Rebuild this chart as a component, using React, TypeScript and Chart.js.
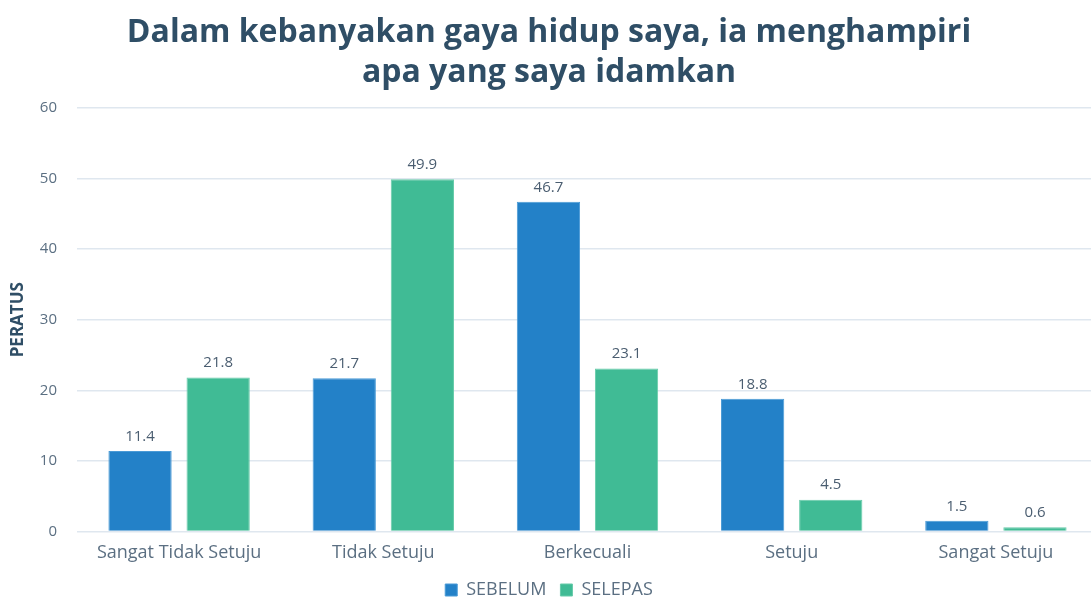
import React, { useEffect, useRef } from "react";
import { Chart, registerables } from "chart.js";

Chart.register(...registerables);

const categories = ["Sangat Tidak Setuju", "Tidak Setuju", "Berkecuali", "Setuju", "Sangat Setuju"];
const sebelum = [11.4, 21.7, 46.7, 18.8, 1.5];
const selepas = [21.8, 49.9, 23.1, 4.5, 0.6];
const seriesNames = ["SEBELUM", "SELEPAS"];
const titleLines = ["Dalam kebanyakan gaya hidup saya, ia menghampiri", "apa yang saya idamkan"];
const yTitle = "PERATUS";

const FONT = "'Open Sans', 'Noto Sans', sans-serif";
const TEXT = "#5b6f82";

const valueLabels = {
  id: "valueLabels",
  afterDatasetsDraw(chart: any) {
    const ctx = chart.ctx;
    ctx.save();
    ctx.font = `15px ${FONT}`;
    ctx.fillStyle = "#4a5d70";
    ctx.textAlign = "center";
    ctx.textBaseline = "bottom";
    chart.data.datasets.forEach((ds: any, i: number) => {
      const meta = chart.getDatasetMeta(i);
      meta.data.forEach((bar: any, j: number) => {
        ctx.fillText(String(ds.data[j]), bar.x, bar.y - 7);
      });
    });
    ctx.restore();
  },
};

export default function App() {
  const ref = useRef<HTMLCanvasElement>(null);
  useEffect(() => {
    document.body.style.overflow = "hidden";
    document.documentElement.style.overflow = "hidden";
    const chart = new Chart(ref.current!, {
      type: "bar",
      data: {
        labels: categories,
        datasets: [
          {
            label: seriesNames[0],
            data: sebelum,
            backgroundColor: "#2381c8",
            borderColor: "#4a9ad6",
            borderWidth: 1,
            categoryPercentage: 0.765,
            barPercentage: 0.81,
          },
          {
            label: seriesNames[1],
            data: selepas,
            backgroundColor: "#40bb95",
            borderColor: "#66cba9",
            borderWidth: 1,
            categoryPercentage: 0.765,
            barPercentage: 0.81,
          },
        ],
      },
      options: {
        responsive: false,
        animation: false,
        layout: { padding: { top: 13, right: 12, left: 0, bottom: 0 } },
        plugins: {
          title: {
            display: true,
            text: titleLines,
            color: "#2f4e66",
            font: { family: FONT, size: 32, weight: "bold", lineHeight: 1.25 },
            padding: { top: 0, bottom: 15 },
          },
          legend: {
            position: "bottom",
            labels: {
              color: TEXT,
              font: { family: FONT, size: 18 },
              boxWidth: 12,
              boxHeight: 12,
              padding: 14,
            },
          },
          tooltip: { enabled: false },
        },
        scales: {
          x: {
            grid: { display: false },
            border: { display: false },
            ticks: { color: TEXT, font: { family: FONT, size: 18 }, padding: 3 },
          },
          y: {
            min: 0,
            max: 60,
            afterFit: (scale: any) => {
              scale.width = 77;
            },
            ticks: { stepSize: 10, color: TEXT, font: { family: FONT, size: 15 }, padding: 20 },
            grid: { color: "#dfe7ef", lineWidth: 1.5, drawTicks: false },
            border: { display: false },
            title: {
              display: true,
              text: yTitle,
              color: "#2f4e66",
              font: { family: FONT, size: 17, weight: "bold" },
              padding: { top: 8, bottom: 0 },
            },
          },
        },
      },
      plugins: [valueLabels],
    });
    return () => chart.destroy();
  }, []);
  return (
    <div style={{ position: "absolute", left: 0, top: 0, width: 1110, height: 609, background: "#fff" }}>
      <canvas ref={ref} width={1110} height={609} />
    </div>
  );
}
